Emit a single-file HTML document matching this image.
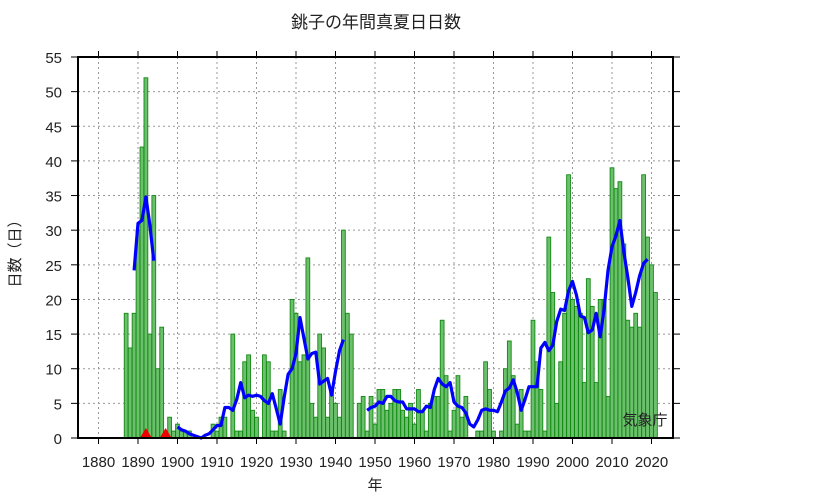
<!DOCTYPE html>
<html><head><meta charset="utf-8"><style>
body{margin:0;background:#fff;}
svg{display:block;font-family:"Liberation Sans","Noto Sans CJK JP",sans-serif;}
</style></head><body>
<svg id="chart" width="833" height="498" viewBox="0 0 833 498" xmlns="http://www.w3.org/2000/svg">
<text x="376" y="28" font-size="17" text-anchor="middle" fill="#222">銚子の年間真夏日日数</text>
<g id="grid"></g>
<g id="bars"></g>
<g id="line"></g>
<g id="marks"></g>
<rect x="78" y="57" width="595" height="381" fill="none" stroke="#000" stroke-width="2"/>
<g id="axes"></g>
<text x="375" y="490" font-size="15" text-anchor="middle" fill="#222">年</text>
<text x="20" y="250" font-size="15" text-anchor="middle" fill="#222" transform="rotate(-90 20 250)">日数（日）</text>
<text x="645" y="425" font-size="15" text-anchor="middle" fill="#222">気象庁</text>
</svg>
<script>
const startYear = 1887;
const values = [18,13,18,30,42,52,15,35,10,16,null,3,1,2,1,1,1,0,0,0,0,0,2,1,3,3,0,15,1,1,11,12,4,3,0,12,11,1,1,7,1,0,20,18,11,12,26,5,3,15,13,3,7,5,3,30,18,15,null,5,6,1,6,2,7,7,4,5,7,7,4,3,5,2,7,4,1,5,6,6,17,9,1,4,9,3,6,0,0,1,1,11,7,1,0,1,10,14,9,2,7,1,1,17,11,7,1,29,21,5,11,18,38,20,19,18,8,23,19,8,20,20,6,39,36,37,28,17,16,18,16,38,29,25,21];
const markerYears = [1892, 1897];
const yTicks = [0,5,10,15,20,25,30,35,40,45,50,55];
const xTicks = [1880,1890,1900,1910,1920,1930,1940,1950,1960,1970,1980,1990,2000,2010,2020];
const NS="http://www.w3.org/2000/svg";
const X0=78,X1=673,Y0=438,Y1=57;
function xs(y){return 98.5+(y-1880)*3.95;}
function ys(v){return Y0-(v/55)*(Y0-Y1);}
function mk(t,a,p){const e=document.createElementNS(NS,t);for(const k in a)e.setAttribute(k,a[k]);p.appendChild(e);return e;}
const grid=document.getElementById('grid'),axes=document.getElementById('axes');
yTicks.forEach(v=>{
  const g=mk('line',{x1:X0,x2:X1,y1:ys(v),y2:ys(v),stroke:'#999','stroke-dasharray':'2,3','stroke-width':1},grid);
  
  
  mk('line',{x1:X0-7,x2:X0,y1:ys(v),y2:ys(v),stroke:'#000'},axes);
  mk('line',{x1:X1,x2:X1+7,y1:ys(v),y2:ys(v),stroke:'#000'},axes);
  const t=mk('text',{x:62,y:ys(v)+6,'font-size':15,'text-anchor':'end',fill:'#222'},axes);
  t.textContent=v;
  
  
});
xTicks.forEach(v=>{
  const g=mk('line',{x1:xs(v),x2:xs(v),y1:Y1,y2:Y0,stroke:'#999','stroke-dasharray':'2,3','stroke-width':1},grid);
  
  
  mk('line',{x1:xs(v),x2:xs(v),y1:Y1-6,y2:Y1,stroke:'#000'},axes);
  mk('line',{x1:xs(v),x2:xs(v),y1:Y0,y2:Y0+6,stroke:'#000'},axes);
  const t=mk('text',{x:xs(v),y:467,'font-size':15,'text-anchor':'middle',fill:'#222'},axes);
  t.textContent=v;
  
  
});
const bars=document.getElementById('bars');
values.forEach((v,i)=>{
  if(v===null||v===0)return;
  const yr=startYear+i;
  const r=mk('rect',{x:xs(yr)-1.9,y:ys(v),width:3.8,height:Y0-ys(v),fill:'#6cbf6c',stroke:'#118a11','stroke-width':0.9},bars);
  
  
});
// 5-year centered moving average
const lineG=document.getElementById('line');
let seg=[];
function flush(){if(seg.length>1){const p=mk('polyline',{points:seg.join(' '),fill:'none',stroke:'#0000ff','stroke-width':3.2,'stroke-linejoin':'round'},lineG);
  
  }seg=[];}
for(let i=2;i<values.length-2;i++){
  let s=0,ok=true;
  for(let k=-2;k<=2;k++){if(values[i+k]===null)ok=false;else s+=values[i+k];}
  if(ok)seg.push(xs(startYear+i).toFixed(1)+','+ys(s/5).toFixed(1));else flush();
}
flush();
const marks=document.getElementById('marks');
markerYears.forEach(yr=>{
  const x=xs(yr);
  const p=mk('polygon',{points:`${x-6},${Y0} ${x+6},${Y0} ${x},${Y0-10}`,fill:'#ee0000'},marks);
  
  
});
</script>
</body></html>
